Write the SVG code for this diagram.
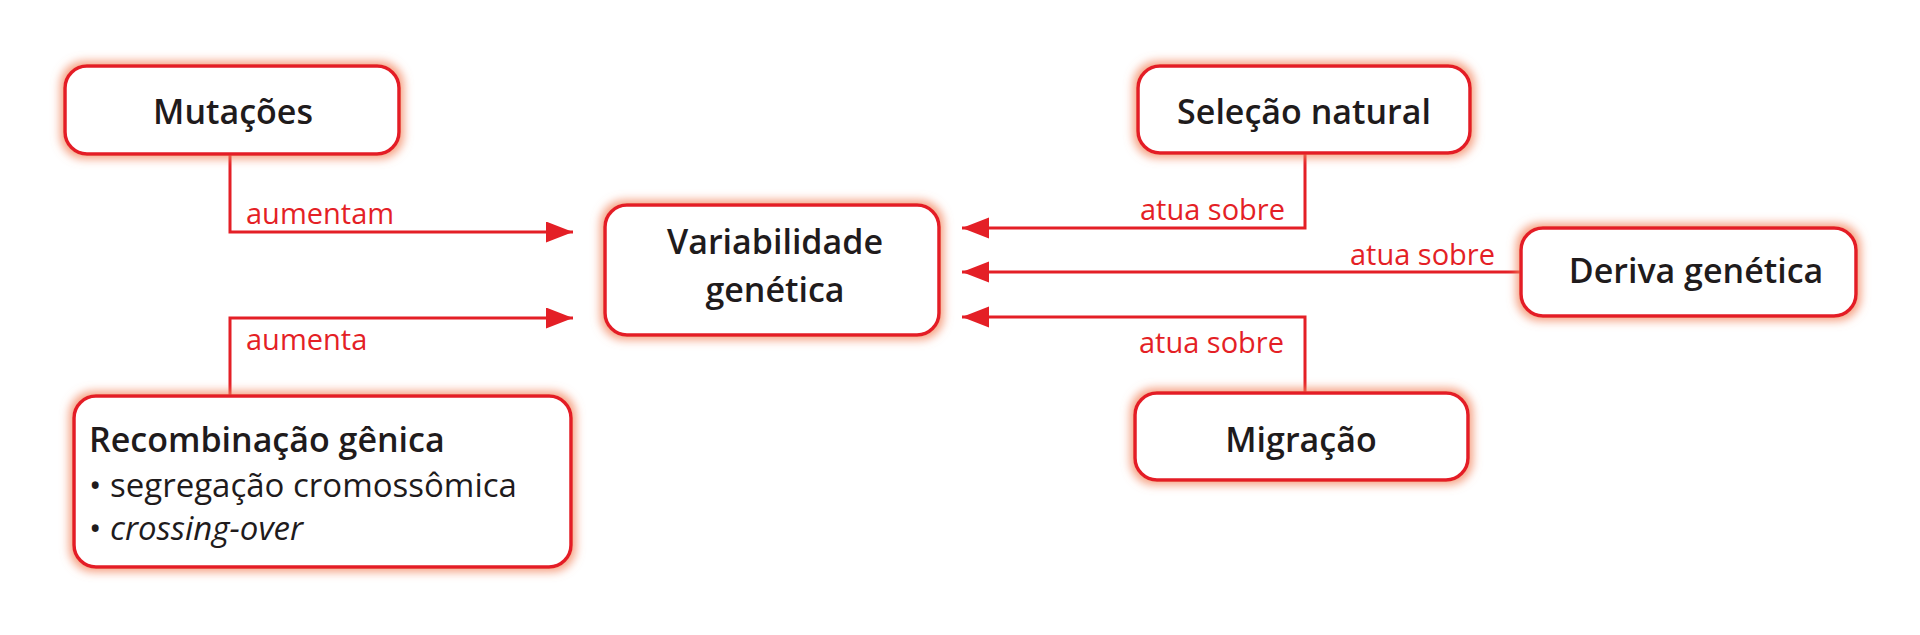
<svg xmlns="http://www.w3.org/2000/svg" width="1920" height="635" viewBox="0 0 1920 635">
<style>
.box{fill:#fff;stroke:#e41f26;stroke-width:3.5;filter:url(#glow)}
.t{font-family:"Open Sans","Noto Sans",sans-serif;font-weight:600;font-size:34px;fill:#1f1b1c}
.c{text-anchor:middle}
.b{font-family:"Open Sans","Noto Sans",sans-serif;font-weight:400;font-size:33px;fill:#1f1b1c}
.l{font-family:"Open Sans","Noto Sans",sans-serif;font-weight:400;font-size:29px;fill:#e41f26}
.e{text-anchor:end}
.conn{fill:none;stroke:#e41f26;stroke-width:3;marker-end:url(#arr)}
</style>
<defs>
<filter id="glow" x="-20%" y="-30%" width="140%" height="160%">
<feMorphology in="SourceAlpha" operator="dilate" radius="3" result="d"/>
<feGaussianBlur in="d" stdDeviation="5" result="bl"/>
<feFlood flood-color="#f3865f" flood-opacity="0.8"/>
<feComposite in2="bl" operator="in" result="g"/>
<feMerge><feMergeNode in="g"/><feMergeNode in="SourceGraphic"/></feMerge>
</filter>
<marker id="arr" markerUnits="userSpaceOnUse" markerWidth="28" markerHeight="22" refX="27" refY="10.5" orient="auto" viewBox="0 0 28 22">
<path d="M0,0 L27,10.5 L0,21 z" fill="#e41f26"/>
</marker>
</defs>
<rect width="1920" height="635" fill="#fff"/>
<g id="connectors">
<path class="conn" d="M230 154 V232 H573"/>
<path class="conn" d="M230 396 V318 H573"/>
<path class="conn" d="M1305 153 V228 H962"/>
<path class="conn" d="M1521 272 H962"/>
<path class="conn" d="M1305 393 V317 H962"/>
<text class="l" x="246" y="224">aumentam</text>
<text class="l" x="246" y="350">aumenta</text>
<text class="l e" x="1285" y="220">atua sobre</text>
<text class="l e" x="1495" y="265">atua sobre</text>
<text class="l e" x="1284" y="353">atua sobre</text>
</g>
<g id="mutacoes">
<rect class="box" x="65" y="66" width="334" height="88" rx="22"/>
<text class="t c" x="233" y="124">Mutações</text>
</g>
<g id="variabilidade">
<rect class="box" x="605" y="205" width="334" height="130" rx="22"/>
<text class="t c" x="775" y="254">Variabilidade</text>
<text class="t c" x="775" y="302">genética</text>
</g>
<g id="recombinacao">
<rect class="box" x="74" y="396" width="497" height="171" rx="22"/>
<text class="t" x="89" y="452">Recombinação gênica</text>
<text class="b" x="89" y="497">• segregação cromossômica</text>
<text class="b" x="89" y="540">• <tspan font-style="italic">crossing-over</tspan></text>
</g>
<g id="selecao">
<rect class="box" x="1138" y="66" width="332" height="87" rx="22"/>
<text class="t c" x="1304" y="124">Seleção natural</text>
</g>
<g id="deriva">
<rect class="box" x="1521" y="228" width="335" height="88" rx="22"/>
<text class="t c" x="1696" y="283">Deriva genética</text>
</g>
<g id="migracao">
<rect class="box" x="1135" y="393" width="333" height="87" rx="22"/>
<text class="t c" x="1301" y="452">Migração</text>
</g>
</svg>
